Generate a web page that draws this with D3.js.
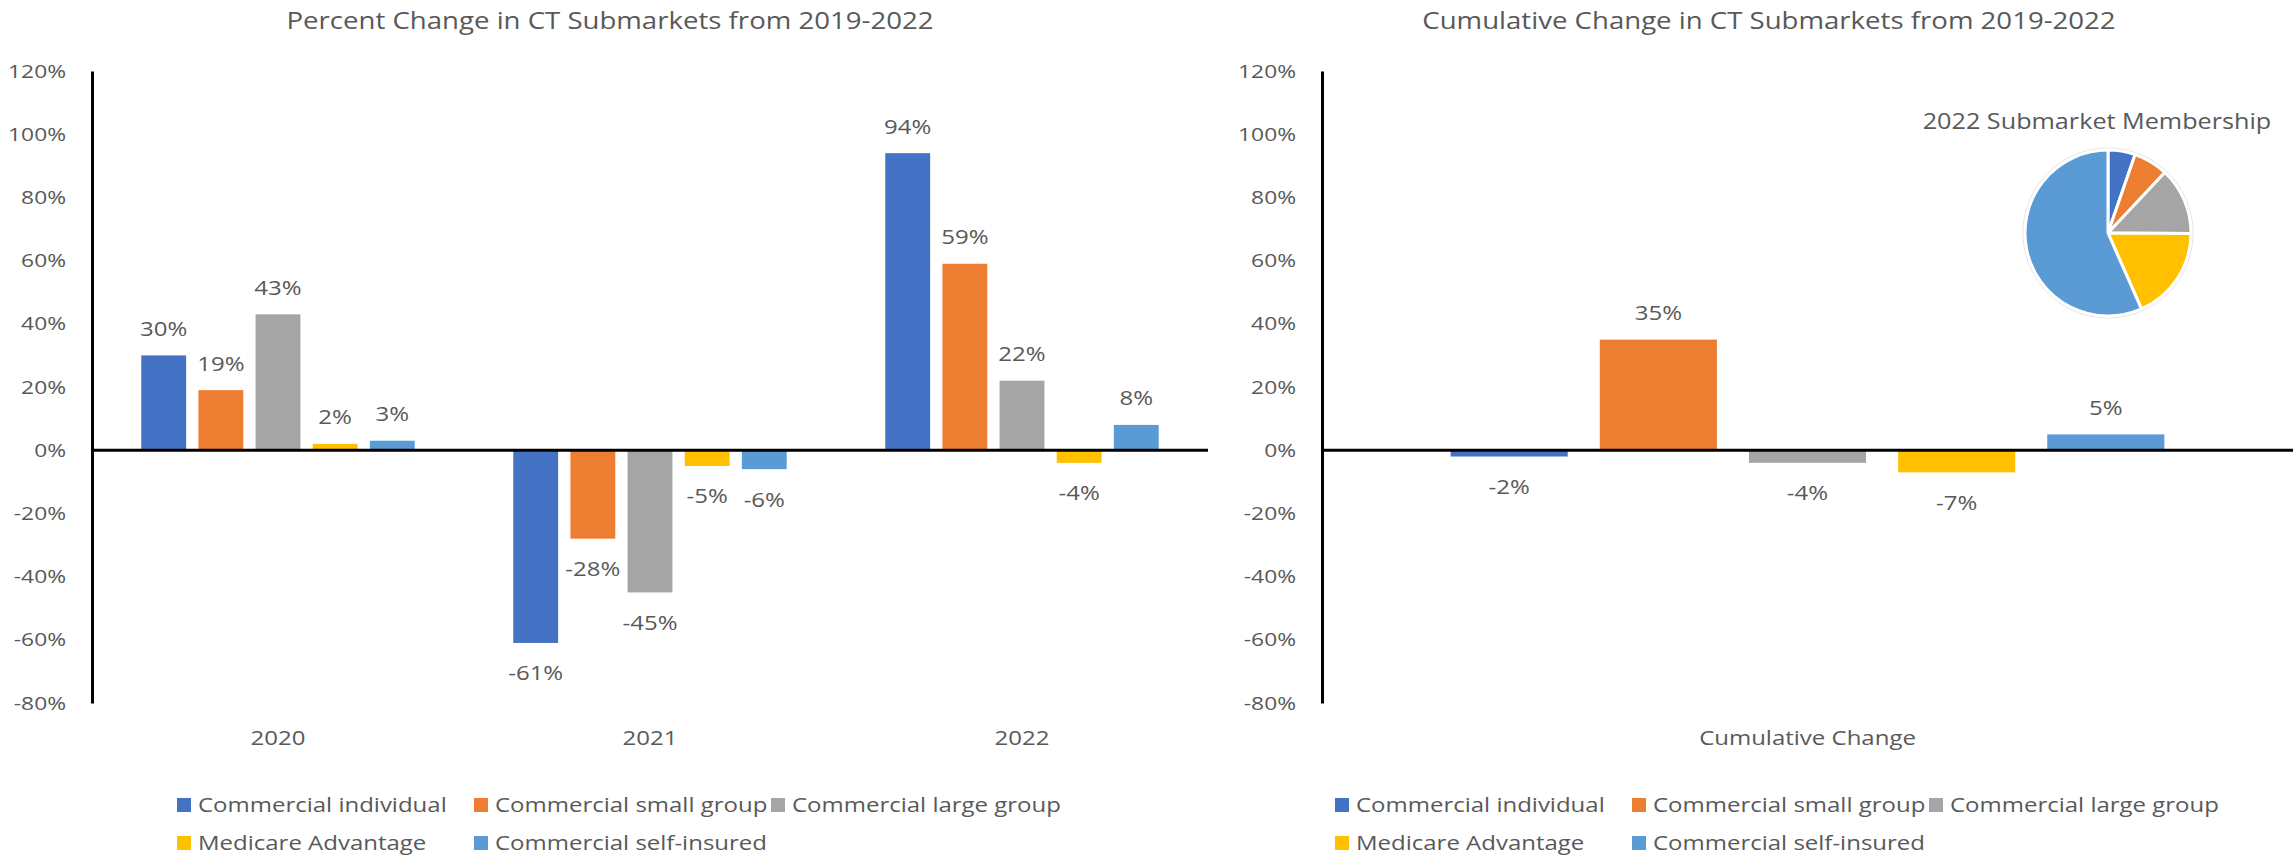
<!DOCTYPE html>
<html>
<head>
<meta charset="utf-8">
<script src="https://cdn.jsdelivr.net/npm/d3@7"></script>
<style>
  html, body { margin: 0; padding: 0; background: #fff; }
  svg { display: block; font-family: "Open Sans", sans-serif; }
</style>
</head>
<body>
<svg id="chart" width="2295" height="855"></svg>
<script>
// Submarkets, in legend order
const series = ["Commercial individual", "Commercial small group", "Commercial large group", "Medicare Advantage", "Commercial self-insured"];
const seriesColors = ["#4472C4", "#ED7D31", "#A5A5A5", "#FFC000", "#5B9BD5"];

// Year-over-year percent change, one array per year (series order)
const years = ["2020", "2021", "2022"];
const change2020 = [0.30, 0.19, 0.43, 0.02, 0.03];
const change2021 = [-0.61, -0.28, -0.45, -0.05, -0.06];
const change2022 = [0.94, 0.59, 0.22, -0.04, 0.08];

// Cumulative change 2019-2022
const cumulativeCategory = ["Cumulative Change"];
const cumulativeChange = [-0.02, 0.35, -0.04, -0.07, 0.05];

// Share of 2022 membership by submarket
const membership2022 = [0.053, 0.067, 0.131, 0.183, 0.566];

// Value axis ticks
const yTicks = [-0.8, -0.6, -0.4, -0.2, 0, 0.2, 0.4, 0.6, 0.8, 1.0, 1.2];

const TEXT = "#595959";
const FONT = "'Open Sans', sans-serif";
const K = 1.2;              // horizontal stretch applied to all text
const svg = d3.select("#chart");
// percent format with a plain hyphen for negatives
const pct = d3.formatLocale({ decimal: ".", thousands: ",", grouping: [3], currency: ["$", ""], minus: "-" }).format(".0%");

const y = d3.scaleLinear().domain([-0.8, 1.2]).range([703, 71]);

function drawPanel(p) {
  const g = svg.append("g");
  const rows = p.cats.map((c, i) => ({ cat: c, vals: p.values[i] }));

  const x0 = d3.scaleBand().domain(p.cats).range([p.left, p.right]).padding(0);
  const bw = x0.bandwidth();
  const groupFrac = 0.735;
  const x1 = d3.scaleBand().domain(series)
    .range([bw * (1 - groupFrac) / 2, bw * (1 + groupFrac) / 2])
    .paddingInner(0.215).paddingOuter(0);

  // value axis
  const ya = g.append("g")
    .attr("transform", `translate(${p.left},0)`)
    .call(d3.axisLeft(y).tickValues(yTicks).tickFormat(pct)
      .tickSize(0).tickSizeOuter(0).tickPadding(26));
  ya.attr("font-family", FONT).attr("font-size", 19);
  ya.select(".domain").attr("stroke", "#000").attr("stroke-width", 3);
  ya.selectAll("text").attr("fill", TEXT);

  // category axis (labels at the bottom)
  const xa = g.append("g")
    .attr("transform", `translate(0,${y(-0.8)})`)
    .call(d3.axisBottom(x0).tickSize(0).tickPadding(28));
  xa.attr("font-family", FONT).attr("font-size", 20);
  xa.select(".domain").remove();
  xa.selectAll("text").attr("fill", TEXT);

  // bars
  const groups = g.selectAll(".grp").data(rows).join("g")
    .attr("class", "grp")
    .attr("transform", d => `translate(${x0(d.cat)},0)`);

  const items = d => d.vals.map((v, i) => ({ v, s: series[i], c: seriesColors[i] }));

  groups.selectAll("rect").data(items).join("rect")
    .attr("x", d => x1(d.s))
    .attr("width", x1.bandwidth())
    .attr("y", d => y(Math.max(0, d.v)))
    .attr("height", d => Math.abs(y(d.v) - y(0)))
    .attr("fill", d => d.c);

  groups.selectAll("text").data(items).join("text")
    .attr("x", d => x1(d.s) + x1.bandwidth() / 2)
    .attr("y", d => d.v >= 0 ? y(d.v) - 26.5 : y(d.v) + 30.5)
    .attr("dy", "0.35em")
    .attr("text-anchor", "middle")
    .attr("font-size", 20)
    .attr("fill", TEXT)
    .text(d => pct(d.v));

  // zero line
  g.append("line")
    .attr("x1", p.left).attr("x2", p.right)
    .attr("y1", y(0)).attr("y2", y(0))
    .attr("stroke", "#000").attr("stroke-width", 3);

  // title
  g.append("text")
    .attr("x", p.titleX).attr("y", 29)
    .attr("text-anchor", "middle")
    .attr("font-size", 23)
    .attr("fill", TEXT)
    .text(p.title);

  // legend
  const lg = g.append("g");
  const li = lg.selectAll("g").data(series).join("g")
    .attr("transform", (d, i) => `translate(${p.legendX + (i % 3) * 297},${812 + Math.floor(i / 3) * 38})`);
  li.append("rect")
    .attr("x", 0).attr("y", -14).attr("width", 14).attr("height", 14)
    .attr("fill", (d, i) => seriesColors[i]);
  li.append("text")
    .attr("x", 21).attr("y", 0)
    .attr("font-size", 20)
    .attr("fill", TEXT)
    .text(d => d);
}

drawPanel({
  cats: years,
  values: [change2020, change2021, change2022],
  left: 92, right: 1208,
  title: "Percent Change in CT Submarkets from 2019-2022",
  titleX: 610,
  legendX: 177
});

drawPanel({
  cats: cumulativeCategory,
  values: [cumulativeChange],
  left: 1322, right: 2293,
  title: "Cumulative Change in CT Submarkets from 2019-2022",
  titleX: 1769,
  legendX: 1335
});

// 2022 membership pie
const pieG = svg.append("g").attr("transform", "translate(2108,233)");
const r = 83;
const pie = d3.pie().sort(null).value(d => d);
const arc = d3.arc().innerRadius(0).outerRadius(r);
pieG.append("circle").attr("r", r + 2).attr("fill", "#fff").attr("stroke", "#e3e3e3").attr("stroke-width", 1);
pieG.selectAll("path").data(pie(membership2022)).join("path")
  .attr("d", arc)
  .attr("fill", (d, i) => seriesColors[i])
  .attr("stroke", "#fff")
  .attr("stroke-width", 3)
  .attr("stroke-linejoin", "round");
svg.append("text")
  .attr("x", 2097).attr("y", 129)
  .attr("text-anchor", "middle")
  .attr("font-size", 21)
  .attr("fill", TEXT)
  .text("2022 Submarket Membership");

// widen all text horizontally around its anchor
svg.selectAll("text").each(function () {
  const t = d3.select(this);
  const x = +t.attr("x") || 0;
  t.attr("x", x / K).attr("transform", `scale(${K},1)`);
});
</script>
</body>
</html>
